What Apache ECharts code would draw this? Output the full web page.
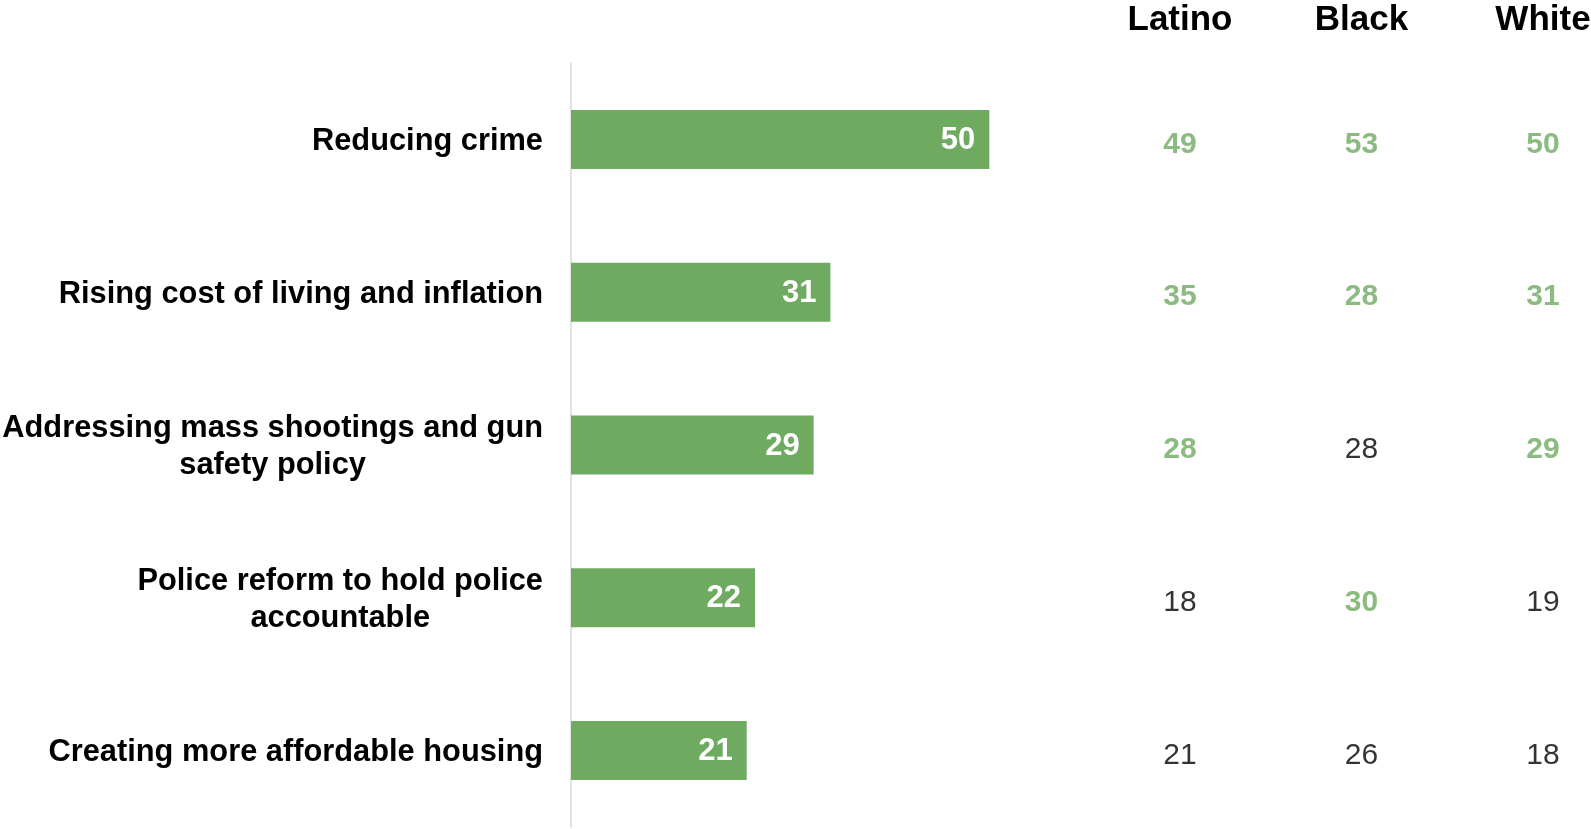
<!DOCTYPE html>
<html>
<head>
<meta charset="utf-8">
<script src="https://cdn.jsdelivr.net/npm/echarts@6/dist/echarts.min.js"></script>
<style>
html,body{margin:0;padding:0;background:#fff;}
#chart{width:1591px;height:829px;}
</style>
</head>
<body>
<div id="chart"></div>
<script>
var categories = [
  "Reducing crime",
  "Rising cost of living and inflation",
  "Addressing mass shootings and gun\nsafety policy",
  "Police reform to hold police\naccountable",
  "Creating more affordable housing"
];
var totalValues = [50, 31, 29, 22, 21];
var groups = ["Latino", "Black", "White"];
var latinoValues = [49, 35, 28, 18, 21];
var blackValues  = [53, 28, 28, 30, 26];
var whiteValues  = [50, 31, 29, 19, 18];
var latinoSig = [1, 1, 1, 0, 0];
var blackSig  = [1, 1, 0, 1, 0];
var whiteSig  = [1, 1, 1, 0, 0];

var GREEN = '#6eaa60';
var FONT = 'Liberation Sans, Arial, sans-serif';

var groupVals = [latinoValues, blackValues, whiteValues];
var groupSig = [latinoSig, blackSig, whiteSig];
var tableData = [];
for (var g = 0; g < groups.length; g++) {
  for (var r = 0; r < categories.length; r++) {
    tableData.push([g, r, groupVals[g][r], groupSig[g][r]]);
  }
}

var chart = echarts.init(document.getElementById('chart'), null, {renderer: 'canvas'});
chart.setOption({
  animation: false,
  backgroundColor: '#ffffff',
  grid: [
    {left: 571, top: 63, bottom: 2, width: 502, containLabel: false, outerBoundsMode: 'none'},
    {left: 1180, top: 63, bottom: 2, right: 48, containLabel: false, outerBoundsMode: 'none'}
  ],
  xAxis: [
    {gridIndex: 0, type: 'value', min: 0, max: 60, show: false},
    {gridIndex: 1, type: 'category', data: groups, boundaryGap: false, position: 'top',
     axisLine: {show: false}, axisTick: {show: false}, splitLine: {show: false},
     axisLabel: {color: '#000', fontFamily: FONT, fontWeight: 'bold', fontSize: 35, margin: 25}}
  ],
  yAxis: [
    {gridIndex: 0, type: 'category', data: categories, inverse: true,
     axisLine: {show: true, lineStyle: {color: '#d9d9d9', width: 1.5}},
     axisTick: {show: false},
     axisLabel: {
       margin: 28, align: 'right', padding: [4, 0, 0, 0],
       formatter: function (v) {
         return v.split('\n').map(function (l) { return '{c|' + l + '}'; }).join('\n');
       },
       rich: {c: {align: 'center', color: '#000', fontFamily: FONT, fontWeight: 'bold', fontSize: 30.8, lineHeight: 37}}
     }},
    {gridIndex: 1, type: 'category', data: categories, inverse: true, show: false}
  ],
  series: [
    {type: 'bar', xAxisIndex: 0, yAxisIndex: 0, data: totalValues, barWidth: 59,
     itemStyle: {color: GREEN},
     label: {show: true, position: 'insideRight', distance: 14, color: '#fff', offset: [0, 1],
             fontFamily: FONT, fontWeight: 'bold', fontSize: 31}},
    {type: 'scatter', xAxisIndex: 1, yAxisIndex: 1, data: tableData,
     symbolSize: 1, itemStyle: {color: 'rgba(0,0,0,0)'},
     label: {show: true, position: 'inside', offset: [0, 5],
       formatter: function (p) { return (p.value[3] ? '{g|' : '{n|') + p.value[2] + '}'; },
       rich: {
         g: {color: GREEN, fontFamily: FONT, fontWeight: 'bold', fontSize: 30},
         n: {color: '#000', fontFamily: FONT, fontWeight: 'normal', fontSize: 30}
       }}}
  ]
});
</script>
</body>
</html>
